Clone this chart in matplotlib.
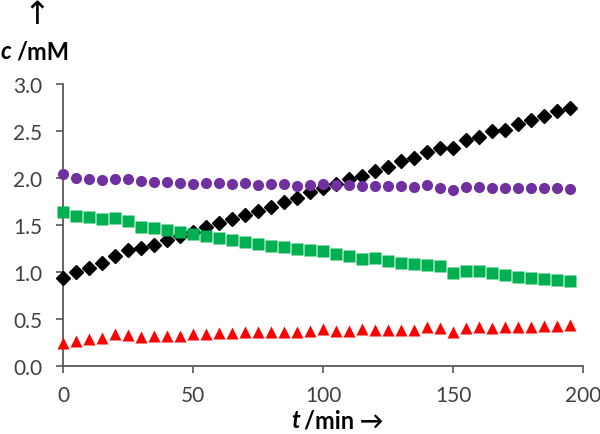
import numpy as np
import matplotlib
matplotlib.use('Agg')
import matplotlib.pyplot as plt

plt.rcParams['font.family'] = ['Lato', 'DejaVu Sans']

t = np.arange(0, 200, 5)

black = [0.94, 1.00, 1.04, 1.10, 1.17, 1.23, 1.26, 1.29, 1.34, 1.38,
         1.43, 1.48, 1.52, 1.56, 1.61, 1.65, 1.69, 1.75, 1.79, 1.85,
         1.89, 1.94, 1.99, 2.02, 2.07, 2.12, 2.18, 2.21, 2.28, 2.32,
         2.32, 2.40, 2.44, 2.50, 2.51, 2.57, 2.62, 2.66, 2.71, 2.74]
purple = [2.04, 2.00, 1.99, 1.98, 1.99, 1.99, 1.97, 1.96, 1.96, 1.95,
          1.94, 1.95, 1.95, 1.94, 1.95, 1.93, 1.94, 1.94, 1.92, 1.93,
          1.935, 1.93, 1.93, 1.91, 1.91, 1.91, 1.92, 1.90, 1.93, 1.89,
          1.87, 1.90, 1.90, 1.89, 1.89, 1.89, 1.89, 1.89, 1.89, 1.88]
green = [1.64, 1.60, 1.59, 1.56, 1.575, 1.54, 1.48, 1.465, 1.45, 1.43,
         1.40, 1.38, 1.365, 1.34, 1.32, 1.295, 1.28, 1.27, 1.25, 1.235,
         1.22, 1.19, 1.17, 1.14, 1.145, 1.12, 1.10, 1.09, 1.07, 1.06,
         0.99, 1.01, 1.01, 0.99, 0.97, 0.95, 0.94, 0.93, 0.91, 0.90]
red = [0.245, 0.27, 0.29, 0.30, 0.34, 0.33, 0.31, 0.32, 0.32, 0.32,
       0.34, 0.34, 0.35, 0.35, 0.36, 0.36, 0.36, 0.365, 0.365, 0.37,
       0.39, 0.375, 0.37, 0.39, 0.385, 0.385, 0.38, 0.385, 0.41, 0.40,
       0.36, 0.40, 0.41, 0.40, 0.42, 0.42, 0.42, 0.43, 0.425, 0.44]

W, H = 600, 435
fig = plt.figure(figsize=(6, 4.35), dpi=100)
ax = fig.add_axes([63 / W, 1 - 367 / H, 520 / W, 282 / H])

axis_col = '#595959'
ax.plot(t, black, 'D', color='black', ms=7, clip_on=False, zorder=5)
ax.plot(t, purple, 'o', color='#7030A0', ms=8, mec='none', clip_on=False, zorder=5)
ax.plot(t, green, 's', color='#00B050', ms=8, mec='none', clip_on=False, zorder=5)
ax.plot(t, red, '^', color='#FF0000', ms=9, mec='none', clip_on=False, zorder=5)

ax.set_xlim(0, 200)
ax.set_ylim(0, 3.0)
ax.set_xticks([0, 50, 100, 150, 200])
ax.set_yticks(np.arange(0, 3.01, 0.5))
ax.set_yticklabels([f'{v:.1f}' for v in np.arange(0, 3.01, 0.5)])

for side in ['top', 'right']:
    ax.spines[side].set_visible(False)
for side in ['left', 'bottom']:
    ax.spines[side].set_color(axis_col)
    ax.spines[side].set_linewidth(1.3)
ax.tick_params(direction='out', length=5, width=1.2, color=axis_col,
               labelcolor='#404040', labelsize=15)
ax.tick_params(axis='y', pad=10)
ax.tick_params(axis='x', pad=9)

fig.text(37 / W, 1.0, '\u2191', fontsize=23, ha='center', va='top',
         color='black', family=['DejaVu Sans'])
fig.text(0 / W, 1 - 52 / H, 'c', fontsize=17, fontweight='bold', fontstyle='italic',
         ha='left', va='center')
fig.text(16 / W, 1 - 52 / H, '/mM', fontsize=17, fontweight='bold',
         ha='left', va='center')

fig.text(296 / W, 1 - 421 / H, 't', fontsize=17, fontweight='bold', fontstyle='italic',
         ha='center', va='center')
fig.text(304 / W, 1 - 421 / H, '/min \u2192', fontsize=17, fontweight='bold',
         ha='left', va='center')

fig.savefig('out.png', dpi=100)
